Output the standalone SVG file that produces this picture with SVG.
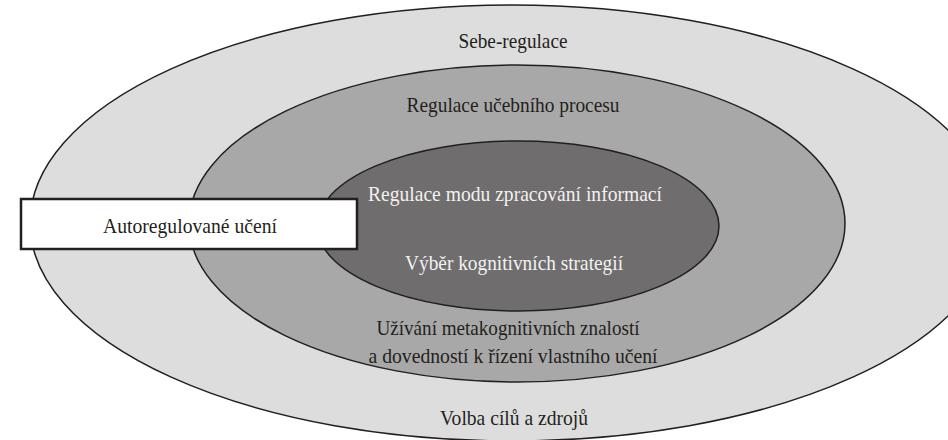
<svg xmlns="http://www.w3.org/2000/svg" width="948" height="440" viewBox="0 0 948 440">
<style>
.ring{stroke:#231f20;stroke-width:1.5}
.t{font-family:"Liberation Serif","DejaVu Serif","Times New Roman",serif;font-size:22px;text-anchor:middle}
.dk{fill:#231f20}
.lt{fill:#f2f2f2}
</style>
<rect width="948" height="440" fill="#ffffff"/>
<g id="outer">
<ellipse class="ring" cx="512" cy="223" rx="482" ry="218" fill="#dddddd"/>
<text class="t dk" x="513" y="48" textLength="109" lengthAdjust="spacingAndGlyphs">Sebe-regulace</text>
<text class="t dk" x="514" y="425" textLength="148" lengthAdjust="spacingAndGlyphs">Volba cílů a zdrojů</text>
</g>
<g id="middle">
<ellipse class="ring" cx="517" cy="223.5" rx="328" ry="158.5" fill="#a9a8a8"/>
<text class="t dk" x="513" y="112" textLength="213" lengthAdjust="spacingAndGlyphs">Regulace učebního procesu</text>
<text class="t dk" x="508" y="335" textLength="263" lengthAdjust="spacingAndGlyphs">Užívání metakognitivních znalostí</text>
<text class="t dk" x="513" y="363" textLength="289" lengthAdjust="spacingAndGlyphs">a dovedností k řízení vlastního učení</text>
</g>
<g id="inner">
<ellipse class="ring" cx="518" cy="226" rx="201" ry="85" fill="#6f6d6d"/>
<text class="t lt" x="515" y="201" textLength="294" lengthAdjust="spacingAndGlyphs">Regulace modu zpracování informací</text>
<text class="t lt" x="514" y="270" textLength="218" lengthAdjust="spacingAndGlyphs">Výběr kognitivních strategií</text>
</g>
<g id="label-box">
<rect x="21" y="199" width="336" height="50" fill="#ffffff" stroke="#231f20" stroke-width="2.5"/>
<text class="t dk" x="190" y="233" textLength="174" lengthAdjust="spacingAndGlyphs">Autoregulované učení</text>
</g>
<g id="connectors"/>
</svg>
